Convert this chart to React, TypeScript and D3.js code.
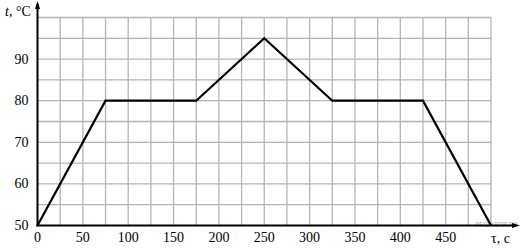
import React from "react";
import * as d3 from "d3";

const timeValues = [0, 75, 175, 250, 325, 425, 500];
const tempValues = [50, 80, 80, 95, 80, 80, 50];
const xTickLabels = [0, 50, 100, 150, 200, 250, 300, 350, 400, 450];
const yTickLabels = [50, 60, 70, 80, 90];

const W = 521;
const H = 250;
const left = 37.5;
const right = 491;
const top = 17.5;
const bottom = 225.5;

const serif: React.CSSProperties = { fontFamily: "Liberation Serif, Times New Roman, serif" };

export default function App() {
  const x = d3.scaleLinear().domain([0, 500]).range([left, right]);
  const y = d3.scaleLinear().domain([50, 100]).range([bottom, top]);
  const xGrid = d3.range(25, 501, 25);
  const yGrid = d3.range(55, 101, 5);
  const pts: [number, number][] = timeValues.map((t, i) => [t, tempValues[i]]);
  const line = d3
    .line<[number, number]>()
    .x((d) => x(d[0]))
    .y((d) => y(d[1]));
  return (
    <svg
      width={W}
      height={H}
      style={{ position: "absolute", left: 0, top: 0, background: "#fff" }}
    >
      {xGrid.map((v) => (
        <line key={"gx" + v} x1={x(v)} x2={x(v)} y1={top} y2={bottom} stroke="#b4b4b4" strokeWidth={1.3} />
      ))}
      {yGrid.map((v) => (
        <line key={"gy" + v} x1={left} x2={right} y1={y(v)} y2={y(v)} stroke="#b4b4b4" strokeWidth={1.3} />
      ))}
      <text x={518} y={227} fontSize={7} fill="#b0b0b0" textAnchor="end" style={{ fontFamily: "DejaVu Sans Condensed, DejaVu Sans, sans-serif" }}>
        РЕШУВПР.РФ
      </text>
      <line x1={left} x2={left} y1={bottom + 1} y2={4} stroke="#000" strokeWidth={2} />
      <path d={`M${left},1 L${left - 2.5},9 L${left + 2.5},9 Z`} fill="#000" />
      <line x1={left - 1} x2={516} y1={bottom} y2={bottom} stroke="#000" strokeWidth={2} />
      <path d={`M520,${bottom} L512,${bottom - 2.5} L512,${bottom + 2.5} Z`} fill="#000" />
      <path d={line(pts) || ""} fill="none" stroke="#000" strokeWidth={2.2} strokeLinejoin="miter" />
      {xTickLabels.map((v) => (
        <text key={"xl" + v} x={x(v)} y={242} fontSize={14} textAnchor="middle" fill="#000" style={serif}>
          {v}
        </text>
      ))}
      {yTickLabels.map((v) => (
        <text key={"yl" + v} x={28.5} y={y(v) + 4.5} fontSize={14} textAnchor="end" fill="#000" style={serif}>
          {v}
        </text>
      ))}
      <text x={5} y={16} fontSize={14} fill="#000" style={serif}>
        <tspan fontStyle="italic">t</tspan>, °C
      </text>
      <text x={491} y={243} fontSize={14} fill="#000" style={serif}>
        τ, с
      </text>
    </svg>
  );
}
